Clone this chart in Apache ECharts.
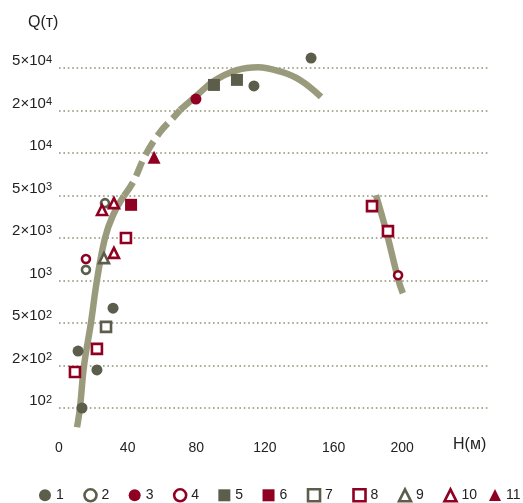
<!DOCTYPE html>
<html>
<head>
<meta charset="utf-8">
<script src="https://cdn.jsdelivr.net/npm/echarts@6/dist/echarts.min.js"></script>
<style>
  html, body { margin: 0; padding: 0; background: #fff; }
  #chart { width: 523px; height: 503px; }
</style>
</head>
<body>
<div id="chart"></div>
<script>
// Q axis: labelled steps are evenly spaced, values between them are log-interpolated
const qTicks = [100, 200, 500, 1000, 2000, 5000, 10000, 20000, 50000];
const hTicks = [0, 40, 80, 120, 160, 200];

// Observations [H (м), Q (т)] by group
const group1  = [[11.1, 273], [22.1, 186], [13.4, 100], [31.5, 637], [113.6, 34000], [146.9, 62000]];
const group2  = [[15.7, 1190], [26.8, 4240]];
const group3  = [[79.8, 25600]];
const group4  = [[15.7, 1420], [197.6, 1090]];
const group5  = [[90.3, 34700], [103.7, 38700]];
const group6  = [[42.0, 4090]];
const group7  = [[27.4, 460]];
const group8  = [[9.3, 180], [22.1, 286], [39.0, 2000], [182.4, 3980], [191.7, 2320]];
const group9  = [[26.2, 1440]];
const group10 = [[25.1, 3660], [32.0, 4240], [32.0, 1570]];
const group11 = [[55.4, 9330]];

// Envelope curves [H, Q]
const riseSolid  = [[10.5, 73], [12.2, 100], [14.6, 200], [18.6, 500], [22.1, 1000], [26.8, 2000], [31.5, 3280], [37.9, 4980]];
const riseDashed = [[37.9, 4980], [43.4, 6290], [50.1, 9530], [58.9, 14050], [67.0, 18000], [70.5, 20200]];
const crest      = [[70.5, 20200], [79.8, 27200], [90.3, 37800], [103.7, 47800], [116.0, 50900], [128.8, 46400], [140.4, 38600], [152.7, 26800]];
const fall       = [[184.7, 5030], [190.5, 2380], [197.8, 1007], [200.4, 812]];

const GRAY = '#5c5e4b';
const RED = '#8f0022';
const CURVE = '#9a9b7d';
const FONT = '"Liberation Sans", Arial, Helvetica, sans-serif';

// Position of a Q value on the stepped axis
function qPos(q) {
  const n = qTicks.length;
  if (q <= qTicks[0]) return Math.log(q / qTicks[0]) / Math.log(qTicks[1] / qTicks[0]);
  if (q >= qTicks[n - 1]) return (n - 1) + Math.log(q / qTicks[n - 1]) / Math.log(qTicks[n - 1] / qTicks[n - 2]);
  for (let i = 0; i < n - 1; i++) {
    if (q <= qTicks[i + 1]) {
      return i + Math.log(q / qTicks[i]) / Math.log(qTicks[i + 1] / qTicks[i]);
    }
  }
}
const toXY = arr => arr.map(([h, q]) => [h, qPos(q)]);

function qLabel(v) {
  if (v < 0 || v > qTicks.length - 1 || v % 1 !== 0) return '';
  const q = qTicks[v];
  const e = Math.floor(Math.log10(q) + 1e-9);
  const m = Math.round(q / Math.pow(10, e));
  return (m === 1 ? '' : '{b|' + m + '×}') + '{b|10}{s|' + e + '}';
}

const markers = [
  { name: '1',  data: group1,  symbol: 'circle',   size: 11, fill: GRAY, stroke: null },
  { name: '2',  data: group2,  symbol: 'circle',   size: 8,  fill: '#fff', stroke: GRAY },
  { name: '3',  data: group3,  symbol: 'circle',   size: 11, fill: RED,  stroke: null },
  { name: '4',  data: group4,  symbol: 'circle',   size: 8,  fill: '#fff', stroke: RED },
  { name: '5',  data: group5,  symbol: 'rect',     size: 12, fill: GRAY, stroke: null },
  { name: '6',  data: group6,  symbol: 'rect',     size: 12, fill: RED,  stroke: null },
  { name: '7',  data: group7,  symbol: 'rect',     size: 10, fill: '#fff', stroke: GRAY },
  { name: '8',  data: group8,  symbol: 'rect',     size: 10, fill: '#fff', stroke: RED },
  { name: '9',  data: group9,  symbol: 'triangle', size: 10, fill: '#fff', stroke: GRAY },
  { name: '10', data: group10, symbol: 'triangle', size: 10, fill: '#fff', stroke: RED },
  { name: '11', data: group11, symbol: 'triangle', size: 13, fill: RED,  stroke: null }
];

function markerStyle(m) {
  return m.stroke
    ? { color: m.fill, borderColor: m.stroke, borderWidth: 2.6, opacity: 1 }
    : { color: m.fill, borderWidth: 0, opacity: 1 };
}

const legendItem = m => ({
  name: m.name,
  icon: m.symbol,
  itemStyle: m.stroke
    ? { color: '#fff', borderColor: m.stroke, borderWidth: 2.6 }
    : { color: m.fill, borderWidth: 0 }
});

const legendBase = {
  top: 488, padding: 0,
  itemWidth: 12, itemHeight: 12, itemGap: 19.4,
  selectedMode: false,
  textStyle: { fontSize: 14, color: '#222', fontFamily: FONT }
};

const curveSeries = (name, data, dashed) => ({
  type: 'line',
  name: name,
  data: toXY(data),
  smooth: 0.4,
  showSymbol: false,
  silent: true,
  z: 1,
  lineStyle: { color: CURVE, width: 6.5, cap: 'butt', type: dashed ? [16, 7] : 'solid' }
});

const chart = echarts.init(document.getElementById('chart'), null, { renderer: 'canvas' });
chart.setOption({
  animation: false,
  backgroundColor: '#fff',
  grid: { left: 59, right: 35, top: 25.5, bottom: 52.5, containLabel: false },
  xAxis: {
    type: 'value',
    min: 0, max: 250, interval: 40,
    axisLine: { show: false },
    axisTick: { show: false },
    splitLine: { show: false },
    axisLabel: {
      margin: -10,
      fontSize: 14, lineHeight: 16,
      color: '#222', fontFamily: FONT,
      formatter: v => (hTicks.indexOf(v) >= 0 ? String(v) : '')
    }
  },
  yAxis: {
    type: 'value',
    min: -1, max: 9, interval: 1,
    axisLine: { show: false },
    axisTick: { show: false },
    splitLine: {
      show: true, showMinLine: false, showMaxLine: false,
      lineStyle: { color: '#8f9174', width: 1.6, type: [1.6, 2.8] }
    },
    axisLabel: {
      margin: 7,
      showMinLabel: false, showMaxLabel: false,
      verticalAlign: 'bottom',
      formatter: qLabel,
      rich: {
        b: { fontSize: 15, lineHeight: 14, color: '#222', fontFamily: FONT },
        s: { fontSize: 11, lineHeight: 6, color: '#222', fontFamily: FONT, verticalAlign: 'top' }
      }
    }
  },
  // two legend rows share one line so the two-digit label does not push the last key
  legend: [
    Object.assign({}, legendBase, { left: 39, data: markers.slice(0, 10).map(legendItem) }),
    Object.assign({}, legendBase, { left: 489, data: markers.slice(10).map(legendItem) })
  ],
  graphic: [
    { type: 'text', left: 28, top: 15, style: { text: 'Q(т)', fontSize: 16, fill: '#222', fontFamily: FONT } },
    { type: 'text', left: 453, top: 437, style: { text: 'H(м)', fontSize: 16, fill: '#222', fontFamily: FONT } }
  ],
  series: [
    curveSeries('rise', riseSolid, false),
    curveSeries('rise-extrapolated', riseDashed, true),
    curveSeries('crest', crest, false),
    curveSeries('fall', fall, false)
  ].concat(markers.map(m => ({
    type: 'scatter',
    name: m.name,
    data: toXY(m.data),
    symbol: m.symbol,
    symbolSize: m.size,
    z: 3,
    clip: false,
    itemStyle: markerStyle(m)
  })))
});
</script>
</body>
</html>
